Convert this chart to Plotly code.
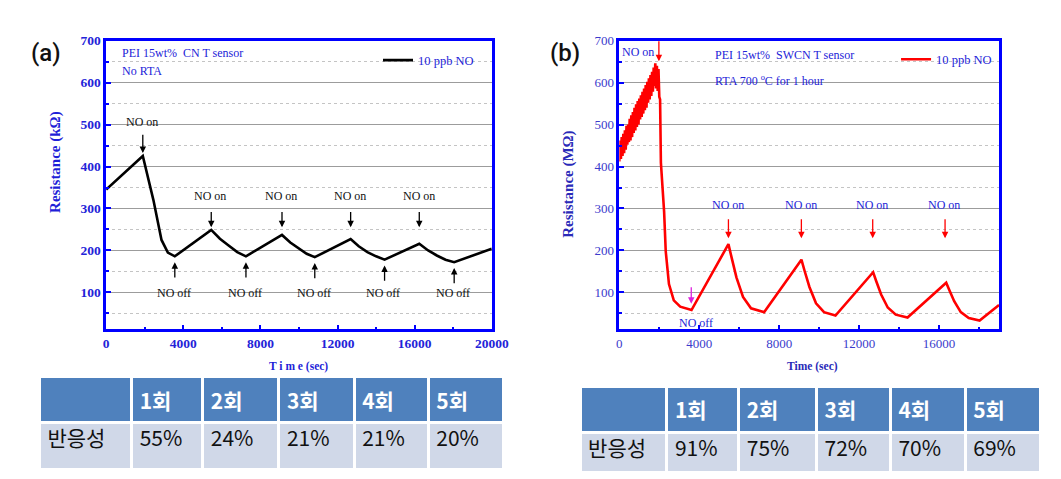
import plotly.graph_objects as go
import numpy as np

# ---------------- data ----------------
# (a) PEI 15wt% CNT sensor, No RTA  (kOhm)
time_a = [0, 1900, 2450, 2870, 3200, 3560, 5450, 5900, 6350, 6800, 7250,
          9120, 9550, 10000, 10400, 10820, 12680, 13100, 13550, 14000, 14440,
          16240, 16700, 17150, 17600, 18050, 20000]
res_a = [345, 425, 320, 225, 195, 186, 249, 228, 212, 196, 186,
         237, 219, 204, 192, 184, 227, 210, 196, 186, 178,
         216, 200, 188, 178, 172, 204]
on_a = [1900, 5450, 9120, 12680, 16240]
off_a = [3560, 7250, 10820, 14440, 18050]

# (b) PEI 15wt% SWCNT sensor, RTA 700C 1h  (MOhm)
time_b = [0, 40, 80, 120, 160, 200, 240, 280, 320, 360, 400, 440, 480, 520, 560,
          600, 640, 680, 720, 760, 800, 840, 880, 920, 960, 1000, 1040, 1080,
          1120, 1160, 1200, 1240, 1280, 1320, 1360, 1400, 1440, 1480, 1520,
          1560, 1600, 1640, 1680, 1720, 1760, 1800, 1840, 1880, 1920, 1960,
          2000, 2040, 2081, 2160, 2242, 2323, 2484, 2726, 3048, 3613,
          5460, 5620, 5860, 6190, 6590, 7244,
          9113, 9273, 9513, 9843, 10243, 10817,
          12702, 12862, 13102, 13432, 13832, 14423,
          16357, 16517, 16757, 17087, 17487, 18029, 19000]
res_b = [412, 462, 418, 470, 425, 478, 432, 486, 440, 497, 452, 500, 458, 514, 462,
         522, 470, 530, 480, 540, 486, 548, 494, 556, 500, 562, 512, 570,
         518, 578, 526, 586, 534, 594, 540, 602, 552, 610, 560,
         618, 568, 626, 578, 636, 592, 646, 586, 640, 580, 632,
         566, 560, 409, 350, 292, 198, 120, 81, 66, 58,
         215, 183, 136, 89, 62, 53,
         178, 151, 113, 74, 53, 45,
         148, 126, 95, 64, 47, 40,
         123, 105, 79, 53, 39, 33, 70]
on_b = [1980, 5460, 9110, 12680, 16300]
off_b = [3600]

rounds = ["1회", "2회", "3회", "4회", "5회"]
row_label = "반응성"
resp_a = ["55%", "24%", "21%", "21%", "20%"]
resp_b = ["91%", "75%", "72%", "70%", "69%"]

# ---------------- helpers ----------------
W, H = 1061, 479
def px(v): return v / W
def py(v): return 1 - v / H

BLUE = "#0000ff"
TXTBLUE = "#2323d8"
SERIF = "Liberation Serif"

fig = go.Figure()
fig.add_trace(go.Scatter(x=time_a, y=res_a, mode="lines", name="10 ppb NO",
                         line=dict(color="black", width=2.6), showlegend=True,
                         xaxis="x", yaxis="y", legend="legend"))
fig.add_trace(go.Scatter(x=time_b, y=res_b, mode="lines", name="10 ppb NO",
                         line=dict(color="#ff0000", width=2.6), showlegend=True,
                         xaxis="x2", yaxis="y2", legend="legend2"))

def table(domx, domy, vals, widths, hh, ch):
    return go.Table(
        domain=dict(x=domx, y=domy),
        columnwidth=widths,
        header=dict(values=["&nbsp;"] + [f"<b>{r}</b>" for r in rounds],
                    fill_color="#4f81bd", line=dict(color="white", width=3),
                    font=dict(color="white", size=21, family="Noto Sans CJK KR"),
                    align="left", height=hh),
        cells=dict(values=[[row_label]] + [[v] for v in vals],
                   fill_color="#d0d8e8", line=dict(color="white", width=3),
                   font=dict(color="#111111", size=21, family="Noto Sans CJK KR"),
                   align="left", height=ch),
    )

fig.add_trace(table([px(29), px(502)], [py(479), py(367)], resp_a,
                    [92, 71, 76, 75, 74, 75], 45, 47))
fig.add_trace(table([px(580), px(1049)], [py(479), py(377)], resp_b,
                    [87, 72, 78, 74, 75, 75], 40, 40))

def xax(domain, rng, bold):
    return dict(domain=domain, range=rng, showline=True, linecolor=BLUE, linewidth=2.5,
                mirror=True, ticks="inside", ticklen=5, tickwidth=2, tickcolor=BLUE,
                tick0=0, dtick=4000, tickformat="d", showgrid=False, zeroline=False,
                minor=dict(ticks="inside", ticklen=3, tickwidth=1.5, tickcolor=BLUE, dtick=2000),
                tickfont=dict(family=SERIF, size=13.5 if bold else 13,
                              color=TXTBLUE if bold else "#3b3bcc",
                              weight="bold" if bold else "normal"))

def yax(domain, anchor, bold):
    return dict(domain=domain, anchor=anchor, range=[12, 700], showline=True,
                linecolor=BLUE, linewidth=2.5, mirror=True, ticks="inside", ticklen=5,
                tickwidth=2, tickcolor=BLUE, tick0=0, dtick=100, zeroline=False,
                showgrid=True, gridcolor="#9c9c9c", gridwidth=1.3,
                minor=dict(ticks="inside", ticklen=3, tickwidth=1.5, tickcolor=BLUE,
                           dtick=50, showgrid=True, gridcolor="#c4c4c4", griddash="dot",
                           gridwidth=1),
                tickfont=dict(family=SERIF, size=13.5 if bold else 13,
                              color=TXTBLUE if bold else "#3b3bcc",
                              weight="bold" if bold else "normal"))

ydom = [py(319), py(26)]
fig.update_layout(
    width=W, height=H, margin=dict(l=0, r=0, t=0, b=0),
    paper_bgcolor="white", plot_bgcolor="white", showlegend=True,
    xaxis=dict(**xax([px(97), px(490)], [0, 20000], True), anchor="y"),
    yaxis=yax(ydom, "x", True),
    xaxis2=dict(**xax([px(620), px(1007)], [0, 19000], False), anchor="y2"),
    yaxis2=yax(ydom, "x2", False),
    legend=dict(x=px(477), xanchor="right", y=py(31), yanchor="top", visible=True,
                bgcolor="rgba(0,0,0,0)", font=dict(family=SERIF, size=12.5, color=TXTBLUE)),
    legend2=dict(x=px(1005), xanchor="right", y=py(30), yanchor="top", visible=True,
                 bgcolor="rgba(0,0,0,0)", font=dict(family=SERIF, size=12.5, color=TXTBLUE)),
)

ann = []
def note(text, x, y, xref="paper", yref="paper", size=12, color=TXTBLUE, family=SERIF,
         xanchor="center", weight="normal", angle=0):
    ann.append(dict(text=text, x=x, y=y, xref=xref, yref=yref, showarrow=False,
                    xanchor=xanchor, yanchor="middle", textangle=angle,
                    font=dict(size=size, color=color, family=family, weight=weight)))

def arrow(x, head, tail, xref, yref, color):
    ann.append(dict(x=x, y=head, ax=x, ay=tail, xref=xref, yref=yref, axref=xref,
                    ayref=yref, text="", showarrow=True, arrowhead=2, arrowsize=1,
                    arrowwidth=1.3, arrowcolor=color, standoff=0))

# panel labels
note("(a)", px(36), py(39), size=24, color="#111111", family="Roboto", weight=500)
note("(b)", px(565), py(39), size=24, color="#111111", family="Roboto", weight=500)

# inside texts
note("PEI 15wt%  CN T sensor", px(111), py(39), size=12, xanchor="left")
note("No RTA", px(111), py(57), size=12, xanchor="left")
note("PEI 15wt%  SWCN T sensor", px(715), py(41), size=12, xanchor="left")
note("RTA 700 <sup>o</sup>C for 1 hour", px(715), py(66), size=12, xanchor="left")

# axis titles
note("Resistance (kΩ)", px(46), py(149), size=15, weight="bold", angle=-90, color="#1f1fd8")
note("Resistance (MΩ)", px(568), py(172), size=15, weight="bold", angle=-90, color="#2a2ab8")
note("T i m e (sec)", px(293), py(357), size=11.5, weight="bold", color="#1f1fd8")
note("Time (sec)", px(817), py(357), size=11.5, weight="bold", color="#2a2ab8")

# (a) event markers
for i, t in enumerate(on_a):
    if i == 0:
        arrow(t, 432, 479, "x", "y", "black")
        note("NO on", t - 40, 505, "x", "y", size=12, color="#111111")
    else:
        arrow(t, 255, 295, "x", "y", "black")
        note("NO on", t - 40, 330, "x", "y", size=12, color="#111111")
for t in off_a:
    head = float(np.interp(t, time_a, res_a)) - 14
    arrow(t, head, head - 40, "x", "y", "black")
    note("NO off", t - 60, 98, "x", "y", size=12, color="#111111")

# (b) event markers
for i, t in enumerate(on_b):
    if i == 0:
        arrow(t, 651, 702, "x2", "y2", "#ff0000")
        note("NO on", 40, 673, "x2", "y2", size=12, xanchor="left")
    else:
        arrow(t, 229, 278, "x2", "y2", "#ff0000")
        note("NO on", t - 40, 309, "x2", "y2", size=12)
for t in off_b:
    arrow(t, 73, 116, "x2", "y2", "#dd22dd")
    note("NO off", t + 250, 27, "x2", "y2", size=12)

fig.update_layout(annotations=ann)
fig.write_html("out.html")
